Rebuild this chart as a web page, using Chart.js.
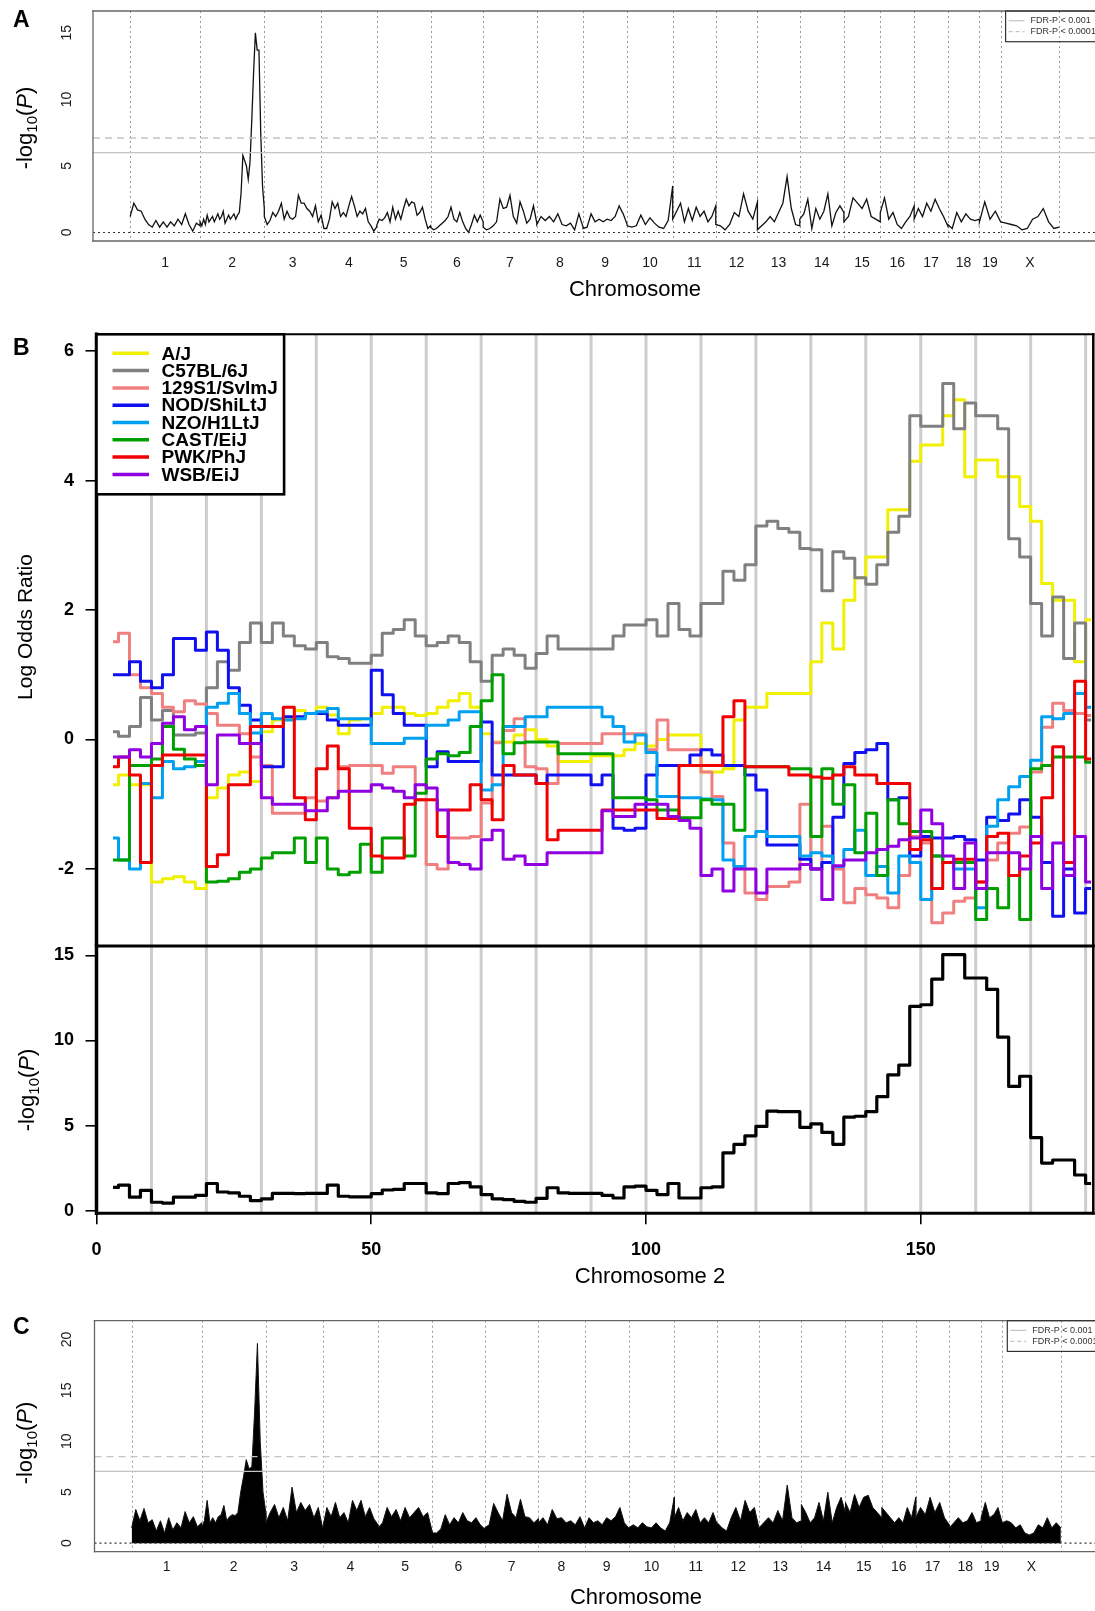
<!DOCTYPE html>
<html>
<head>
<meta charset="utf-8">
<title>Genome scan and chromosome 2 detail</title>
<script src="https://cdn.jsdelivr.net/npm/chart.js"></script>
<style>
  html, body { margin: 0; padding: 0; background: #ffffff; }
  body { position: relative; width: 1095px; height: 1611px; overflow: hidden; }
  canvas { position: absolute; left: 0; }
</style>
</head>
<body>
<canvas id="panelA" width="1100" height="300" style="top:0px;width:1100px;height:300px"></canvas>
<canvas id="panelB1" width="1100" height="626" style="top:320px;width:1100px;height:626px"></canvas>
<canvas id="panelB2" width="1100" height="370" style="top:930px;width:1100px;height:370px"></canvas>
<canvas id="panelC" width="1100" height="311" style="top:1300px;width:1100px;height:311px"></canvas>
<script>
const FONT = '"Liberation Sans", Arial, Helvetica, sans-serif';
Chart.defaults.font.family = FONT;
Chart.defaults.color = '#000';

/* Chromosome layout (Mb) */
const chrNames = ["1", "2", "3", "4", "5", "6", "7", "8", "9", "10", "11", "12", "13", "14", "15", "16", "17", "18", "19", "X"];
const chrLengths = [198, 182, 161, 157, 153, 149, 152, 131, 125, 129, 122, 118, 120, 125, 103, 96, 95, 90, 60, 166];

/* Panel A: -log10(P) per chromosome, values spread from start to end */
const scanA = [
  [1.2, 2.2, 1.7, 1.6, 1.0, 0.6, 0.4, 0.9, 0.4, 0.8, 0.4, 0.8, 0.5, 1.0, 0.6, 1.4, 0.6, 0.1, 0.7, 0.5],
  [0.8, 0.5, 1.0, 0.6, 1.3, 0.8, 1.0, 1.2, 0.8, 1.1, 1.4, 1.0, 1.2, 1.6, 0.7, 1.0, 1.3, 1.0, 1.2, 1.4, 1.0, 1.3, 1.5, 3.0, 5.8, 5.4, 5.0, 4.0, 5.3, 8.5, 12.0, 15.0, 13.7, 13.7, 7.5, 3.5, 1.8],
  [1.2, 0.6, 0.9, 1.5, 1.2, 1.6, 2.2, 1.0, 1.6, 1.1, 1.0, 1.2, 2.8, 2.2, 2.2, 1.8, 1.6, 1.2, 2.0, 0.8, 1.3],
  [1.3, 0.3, 0.3, 1.0, 2.3, 1.8, 2.2, 1.2, 1.5, 1.2, 2.0, 2.7, 2.0, 1.2, 1.6, 1.4, 1.8, 0.8, 0.5, 0.1, 0.4],
  [0.5, 1.0, 0.9, 1.1, 1.5, 0.8, 1.9, 1.0, 1.6, 1.0, 1.8, 2.5, 2.0, 2.3, 2.2, 1.3, 1.5, 1.9, 1.0, 0.3, 0.5],
  [0.4, 0.2, 0.3, 0.5, 0.7, 0.9, 1.2, 1.9, 1.0, 0.8, 1.5, 0.8, 0.3, 0.0, 0.6, 1.3, 0.8, 1.3, 0.8],
  [0.4, 0.2, 0.3, 0.5, 0.8, 2.5, 1.8, 1.9, 2.8, 1.2, 0.7, 2.3, 1.6, 0.7, 1.0, 2.0, 0.7],
  [0.6, 1.2, 0.9, 1.2, 0.8, 1.4, 0.6, 0.5, 0.7, 0.2, 1.4, 0.4],
  [0.3, 0.4, 1.4, 0.8, 1.0, 0.8, 1.0, 0.9, 1.2, 2.0, 1.4, 0.6],
  [0.5, 0.4, 0.5, 1.3, 0.6, 1.1, 0.7, 0.4, 0.3, 0.9, 3.5],
  [1.0, 1.6, 2.2, 0.8, 1.8, 0.9, 1.9, 1.2, 1.6, 0.8, 1.2, 2.0],
  [0.6, 0.5, 0.2, 0.6, 1.5, 1.2, 2.9, 1.6, 1.0, 2.3],
  [0.2, 0.5, 0.8, 1.2, 0.8, 1.5, 2.2, 4.2, 1.8, 0.6, 0.5],
  [1.0, 1.4, 2.5, 0.3, 1.8, 1.0, 1.6, 2.9, 0.5, 1.5, 2.0, 1.5],
  [0.8, 1.2, 2.6, 2.2, 1.8, 2.5, 1.2, 1.0, 0.8],
  [1.5, 2.6, 1.0, 1.5, 0.6, 0.3, 0.8, 1.2, 2.0],
  [1.0, 1.8, 1.2, 2.2, 1.6, 2.5, 1.8, 1.2, 0.5],
  [0.6, 0.3, 1.5, 0.8, 1.4, 1.0, 0.9, 1.0],
  [0.8, 2.3, 1.0, 1.6, 0.8],
  [0.8, 0.7, 0.6, 0.5, 0.2, 0.3, 1.0, 1.2, 1.8, 0.8, 0.3, 0.4]
];
const thresholdsA = [6.0, 7.1];
const yTicksA = [0, 5, 10, 15];

/* Panel C: -log10(P) envelope per chromosome */
const scanC = [
  [1.5, 3.3, 2.2, 3.4, 2.0, 2.3, 1.2, 2.2, 1.0, 2.5, 1.3, 2.0, 1.5, 3.1, 2.0, 2.6, 1.6, 2.0],
  [1.5, 2.2, 4.2, 2.0, 2.5, 2.0, 2.6, 2.8, 3.7, 2.2, 2.6, 2.8, 2.7, 3.0, 5.0, 6.5, 8.2, 7.3, 7.5, 13.0, 19.6, 10.0, 5.0, 3.0],
  [2.0, 3.0, 3.8, 2.5, 3.5, 2.2, 5.5, 3.0, 4.0, 3.2, 3.8, 2.5, 3.5, 1.5],
  [1.5, 3.5, 2.6, 4.0, 2.5, 3.0, 2.0, 4.2, 3.2, 4.2, 2.6, 3.5, 2.4, 1.8],
  [1.5, 2.0, 3.5, 2.6, 3.3, 2.2, 3.5, 2.5, 3.0, 3.5, 2.6, 3.0, 1.2],
  [1.0, 1.0, 1.4, 2.8, 1.8, 2.5, 2.0, 3.0, 2.2, 2.0, 2.5, 1.8, 1.4],
  [1.5, 1.8, 3.9, 3.0, 2.2, 4.8, 3.0, 2.5, 4.3, 2.6, 2.5, 2.0, 2.4],
  [2.0, 2.5, 1.8, 3.3, 2.4, 2.5, 2.0, 2.2, 1.8, 2.6, 1.5],
  [1.5, 2.5, 2.0, 2.2, 1.8, 2.5, 2.2, 2.6, 3.5, 2.0, 1.5],
  [1.5, 1.8, 1.5, 2.0, 1.6, 1.5, 2.0, 1.5, 1.2, 2.0, 4.5],
  [2.5, 3.5, 2.2, 3.0, 2.5, 3.3, 2.0, 2.5, 2.0, 3.0, 1.8],
  [2.0, 1.5, 1.2, 2.5, 3.5, 2.2, 4.2, 3.0, 3.5, 1.5],
  [1.5, 2.0, 2.5, 2.0, 3.2, 2.2, 5.7, 2.5, 2.0, 2.2],
  [3.8, 3.0, 2.0, 2.5, 4.0, 2.2, 5.0, 2.0, 3.5, 4.5, 3.0],
  [4.0, 3.0, 4.8, 3.5, 4.5, 4.7, 3.5, 3.0, 2.5],
  [3.5, 3.0, 2.5, 2.0, 2.5, 2.0, 3.5, 2.5, 4.5],
  [2.5, 3.5, 2.8, 4.5, 3.0, 4.0, 2.5, 1.8],
  [1.5, 2.0, 2.5, 2.0, 2.2, 3.0, 2.0, 2.2],
  [2.5, 4.0, 2.5, 2.8, 3.5, 2.0],
  [2.0, 2.2, 2.0, 1.5, 1.8, 1.0, 0.8, 1.0, 1.8, 1.5, 2.5, 1.5, 2.0, 1.5]
];
const thresholdsC = [7.05, 8.5];
const yTicksC = [0, 5, 10, 15, 20];
const thresholdLabels = ["FDR-P < 0.001", "FDR-P < 0.0001"];

/* Panel B: chromosome 2 positions (Mb) and founder log odds ratios */
const strains = ["A/J", "C57BL/6J", "129S1/SvImJ", "NOD/ShiLtJ", "NZO/H1LtJ", "CAST/EiJ", "PWK/PhJ", "WSB/EiJ"];
const strainColors = ["#F0F000", "#808080", "#F08080", "#1010F0", "#00A0F0", "#00A000", "#F00000", "#9000E0"];
const posB = [3, 5, 7, 9, 11, 13, 15, 17, 19, 21, 23, 25, 27, 29, 31, 33, 35, 37, 39, 41,
  43, 45, 47, 49, 51, 53, 55, 57, 59, 61, 63, 65, 67, 69, 71, 73, 75, 77, 79, 81,
  83, 85, 87, 89, 91, 93, 95, 97, 99, 101, 103, 105, 107, 109, 111, 113, 115, 117, 119, 121,
  123, 125, 127, 129, 131, 133, 135, 137, 139, 141, 143, 145, 147, 149, 151, 153, 155, 157, 159, 161,
  163, 165, 167, 169, 171, 173, 175, 177, 179, 181];

const orAJ = [-0.7, -0.55, -0.7, -0.7, -2.2, -2.15, -2.12, -2.2, -2.3, -0.9,
  -0.75, -0.55, -0.5, -0.65, 0.12, 0.3, 0.32, 0.45, 0.4, 0.5,
  0.38, 0.09, 0.3, 0.32, 0.4, 0.5, 0.5, 0.4, 0.37, 0.4,
  0.5, 0.6, 0.71, 0.5, 0.09, -0.04, -0.04, 0.07, 0.15, 0.0,
  -0.1, -0.34, -0.34, -0.34, -0.25, -0.25, -0.25, -0.16, -0.06, -0.1,
  0.0, 0.07, 0.07, 0.07, -0.5, -0.5, -0.45, 0.3, 0.5, 0.5,
  0.71, 0.71, 0.71, 0.71, 1.2, 1.8, 1.4, 2.15, 2.5, 2.82,
  2.82, 3.55, 3.55, 4.3, 4.55, 4.55, 5.0, 5.25, 4.06, 4.32,
  4.32, 4.06, 4.06, 3.6, 3.37, 2.41, 2.15, 2.15, 1.2, 1.85];
const orB6 = [0.12, 0.05, 0.2, 0.65, 0.3, 0.45, 0.07, 0.07, 0.1, 0.8,
  1.2, 1.07, 1.5, 1.8, 1.5, 1.8, 1.6, 1.45, 1.4, 1.5,
  1.28, 1.25, 1.18, 1.18, 1.3, 1.64, 1.7, 1.85, 1.6, 1.45,
  1.5, 1.6, 1.5, 1.2, 0.9, 1.3, 1.4, 1.3, 1.1, 1.33,
  1.6, 1.4, 1.4, 1.4, 1.4, 1.4, 1.6, 1.77, 1.77, 1.85,
  1.6, 2.1, 1.7, 1.6, 2.1, 2.1, 2.6, 2.46, 2.7, 3.3,
  3.37, 3.26, 3.2, 2.95, 2.93, 2.3, 2.9, 2.8, 2.5, 2.4,
  2.7, 3.2, 3.45, 5.0, 4.84, 4.84, 5.5, 4.8, 5.2, 5.0,
  5.0, 4.8, 3.1, 2.82, 2.1, 1.6, 2.2, 1.25, 1.8, 0.3];
const or129 = [1.51, 1.64, 1.0, 0.8, 0.71, 0.5, 0.43, 0.6, 0.55, 0.4,
  0.22, 0.22, 0.09, -0.27, -0.4, -1.14, -1.14, -1.14, -0.9, -0.95,
  -0.9, -0.42, -0.4, -0.4, -0.4, -0.52, -0.42, -0.42, -0.93, -1.93,
  -2.0, -1.52, -1.52, -1.5, -0.98, -0.05, 0.14, 0.32, -0.42, -0.45,
  -0.68, -0.06, -0.06, -0.06, -0.06, 0.09, 0.09, 0.09, 0.09, -0.16,
  0.3, -0.16, -0.16, -0.16, -0.5, -0.88, -1.6, -1.96, -2.37, -2.47,
  -2.27, -2.27, -2.2, -1.0, -2.0, -1.34, -2.0, -2.52, -2.3, -2.4,
  -2.45, -2.6, -2.1, -1.5, -1.6, -2.83, -2.68, -2.5, -2.45, -2.2,
  -1.86, -1.6, -1.45, -1.35, -0.5, 0.19, 0.56, 0.45, 0.4, 0.37];
const orNOD = [1.0, 1.0, 1.2, 0.9, 0.8, 1.0, 1.56, 1.56, 1.38, 1.66,
  1.38, 0.8, 0.53, 0.3, -0.42, -0.42, 0.35, 0.35, 0.4, 0.4,
  0.3, 0.22, 0.22, 0.22, 1.07, 0.69, 0.4, 0.22, 0.22, -0.42,
  -0.19, -0.34, -0.34, -0.34, 0.27, -0.55, -0.55, -0.55, -0.55, -0.68,
  -0.55, -0.55, -0.55, -0.55, -0.7, -0.55, -1.37, -1.4, -1.37, -0.55,
  -0.4, -0.4, -0.4, -0.24, -0.16, -0.24, -0.4, -0.4, -0.55, -0.78,
  -1.63, -1.63, -1.63, -1.85, -2.0, -1.9, -1.2, -0.37, -0.2, -0.16,
  -0.06, -0.93, -0.9, -1.8, -1.5, -1.52, -1.52, -1.5, -1.55, -1.86,
  -1.2, -1.25, -1.15, -0.93, -1.2, -1.9, -2.73, -2.0, -2.68, -2.3];
const orNZO = [-1.52, -1.86, -2.0, -0.68, -0.9, -0.34, -0.45, -0.42, -0.34, 0.5,
  0.56, 0.71, 0.4, 0.1, 0.4, 0.32, 0.3, 0.32, 0.4, 0.43,
  0.48, 0.32, 0.32, 0.32, -0.06, -0.06, -0.06, 0.02, 0.02, 0.22,
  0.22, 0.3, 0.43, 0.43, -0.78, -0.7, 0.2, 0.2, 0.35, 0.35,
  0.5, 0.5, 0.5, 0.5, 0.5, 0.35, 0.2, -0.04, 0.07, -0.2,
  -0.88, -0.88, -0.9, -0.9, -0.92, -0.93, -1.86, -1.96, -1.5, -1.42,
  -1.5, -1.5, -1.5, -1.8, -1.75, -1.8, -1.96, -1.7, -1.4, -2.1,
  -1.96, -2.37, -1.8, -1.9, -2.47, -1.8, -1.9, -2.0, -2.0, -2.6,
  -1.34, -0.93, -0.73, -0.57, -0.32, 0.35, 0.32, 0.4, 0.71, 0.5];
const orCAST = [-1.86, -1.86, -0.4, -0.4, -0.3, 0.2, -0.15, -0.3, -0.4, -2.2,
  -2.19, -2.15, -2.05, -2.0, -1.83, -1.75, -1.75, -1.52, -1.9, -1.52,
  -2.0, -2.09, -2.05, -1.62, -2.05, -1.52, -1.52, -1.8, -0.83, -0.3,
  -0.22, -0.25, -0.2, 0.2, 0.6, 1.0, -0.22, -0.05, -0.04, -0.04,
  -0.04, -0.22, -0.22, -0.22, -0.22, -0.22, -0.9, -0.9, -0.9, -0.93,
  -1.09, -1.09, -1.21, -1.21, -0.93, -1.0, -1.0, -1.4, -0.42, -0.42,
  -0.42, -0.42, -0.45, -0.45, -1.5, -0.45, -1.0, -0.7, -1.75, -1.14,
  -2.1, -0.93, -1.3, -1.42, -1.42, -1.8, -1.9, -1.9, -1.9, -2.78,
  -2.3, -2.6, -2.1, -2.78, -0.45, -0.4, -0.27, -0.27, -0.27, -0.35];
const orPWK = [-0.42, -0.27, -0.55, -1.9, -0.4, -0.24, -0.24, -0.24, -0.24, -1.96,
  -1.78, -0.7, -0.7, 0.2, 0.2, 0.2, 0.5, -0.9, -1.24, -0.45,
  -0.1, -0.45, -1.37, -1.37, -1.8, -1.83, -1.83, -1.0, -0.93, -0.93,
  -1.5, -1.09, -1.09, -0.7, -0.93, -1.24, -0.4, -0.55, -0.55, -0.68,
  -1.55, -1.4, -1.4, -1.4, -1.4, -1.09, -1.09, -1.09, -1.09, -1.09,
  -1.22, -1.22, -0.4, -0.4, -0.4, -0.4, 0.35, 0.6, -0.42, -0.42,
  -0.42, -0.42, -0.55, -0.55, -0.58, -0.6, -0.55, -0.42, -0.55, -0.55,
  -0.68, -0.68, -0.68, -1.7, -1.55, -2.3, -1.9, -1.85, -1.85, -2.2,
  -1.5, -1.45, -2.1, -1.8, -1.6, -0.9, -0.11, -1.9, 0.9, -0.3];
const orWSB = [-0.27, -0.27, -0.16, -0.27, -0.06, 0.25, 0.35, 0.15, 0.2, -0.7,
  0.07, 0.07, -0.06, -0.06, -0.9, -1.0, -1.0, -1.0, -1.1, -1.1,
  -0.9, -0.8, -0.8, -0.8, -0.7, -0.75, -0.8, -0.9, -0.7, -0.75,
  -1.09, -1.9, -1.93, -2.0, -1.55, -1.4, -1.85, -1.8, -1.93, -1.93,
  -1.75, -1.75, -1.75, -1.75, -1.75, -1.1, -1.19, -1.19, -1.0, -1.0,
  -1.0, -1.19, -1.25, -1.37, -2.1, -2.0, -2.34, -2.0, -2.0, -2.37,
  -2.0, -2.0, -2.0, -1.93, -2.0, -2.47, -1.95, -1.86, -1.86, -1.75,
  -1.7, -1.65, -1.55, -1.52, -1.09, -1.3, -1.8, -2.3, -1.6, -2.3,
  -1.75, -1.75, -1.75, -2.0, -1.5, -2.3, -1.6, -2.1, -1.5, -2.2];
const orSeries = [orAJ, orB6, or129, orNOD, orNZO, orCAST, orPWK, orWSB];

/* Panel B bottom: chromosome 2 -log10(P) */
const pChr2 = [1.37, 1.5, 0.8, 1.2, 0.5, 0.45, 0.8, 0.8, 0.9, 1.6,
  1.1, 1.05, 0.85, 0.6, 0.7, 1.02, 1.02, 1.0, 1.02, 1.02,
  1.5, 0.85, 0.82, 0.82, 1.0, 1.22, 1.25, 1.6, 1.6, 1.05,
  1.0, 1.6, 1.65, 1.4, 0.95, 0.7, 0.65, 0.55, 0.5, 0.73,
  1.35, 1.05, 1.02, 1.02, 1.02, 0.9, 0.75, 1.4, 1.45, 1.2,
  0.95, 1.6, 0.75, 0.75, 1.35, 1.4, 3.4, 3.9, 4.4, 4.95,
  5.85, 5.82, 5.82, 4.9, 5.1, 4.6, 3.9, 5.5, 5.55, 5.82,
  6.7, 7.98, 8.55, 12.0, 12.1, 13.6, 15.04, 15.04, 13.67, 13.67,
  13.0, 10.2, 7.3, 7.9, 4.3, 2.8, 2.98, 2.98, 2.1, 1.6];
const yTicksOR = [-2, 0, 2, 4, 6];
const yTicksP = [0, 5, 10, 15];
const xTicksB = [0, 50, 100, 150];

/* Helpers */
function chrStarts() {
  let starts = [];
  let acc = 0;
  for (let i = 0; i < chrLengths.length; i++) {
    starts.push(acc);
    acc += chrLengths[i];
  }
  return starts;
}
const genomeLength = chrLengths.reduce((a, b) => a + b, 0);
const genomePad = genomeLength * 0.04;

function chrMids() {
  return chrStarts().map((s, i) => s + chrLengths[i] / 2);
}

function genomePoints(scan) {
  const starts = chrStarts();
  let points = [];
  scan.forEach(function (vals, c) {
    vals.forEach(function (v, j) {
      points.push({ x: starts[c] + chrLengths[c] * j / (vals.length - 1), y: v });
    });
  });
  return points;
}

function hLine(y) {
  return [{ x: -genomePad, y: y }, { x: genomeLength + genomePad, y: y }];
}

function fixAxis(size, prop) {
  return function (scale) {
    scale[prop] = size;
    scale.paddingTop = 0;
    scale.paddingBottom = 0;
    scale.paddingLeft = 0;
    scale.paddingRight = 0;
  };
}

function setTicks(values) {
  return function (scale) {
    scale.ticks = values.map(v => ({ value: v }));
  };
}

function drawLogP(ctx, size) {
  const parts = [
    ["-log", size + "px " + FONT, 0],
    ["10", Math.round(size * 0.7) + "px " + FONT, size * 0.32],
    ["(", size + "px " + FONT, 0],
    ["P", "italic " + size + "px " + FONT, 0],
    [")", size + "px " + FONT, 0]
  ];
  let total = 0;
  parts.forEach(p => { ctx.font = p[1]; total += ctx.measureText(p[0]).width; });
  let x = -total / 2;
  ctx.textAlign = "left";
  parts.forEach(p => {
    ctx.font = p[1];
    ctx.fillText(p[0], x, p[2]);
    x += ctx.measureText(p[0]).width;
  });
}

/* Plugins */
function textLayer(items) {
  return {
    id: "textLayer",
    afterDraw(chart) {
      const ctx = chart.ctx;
      items.forEach(function (t) {
        ctx.save();
        ctx.translate(t.x, t.y);
        if (t.rotate) ctx.rotate(-Math.PI / 2);
        ctx.fillStyle = "#000";
        ctx.textBaseline = "middle";
        if (t.logp) {
          drawLogP(ctx, t.size);
        } else {
          ctx.font = (t.bold ? "bold " : "") + t.size + "px " + FONT;
          ctx.textAlign = t.align || "center";
          ctx.fillText(t.text, 0, 0);
        }
        ctx.restore();
      });
    }
  };
}

function frameLayer(color, widths) {
  return {
    id: "frameLayer",
    afterDatasetsDraw(chart) {
      const { ctx, chartArea: a } = chart;
      const sides = [
        [a.left, a.top, a.right, a.top],
        [a.right, a.top, a.right, a.bottom],
        [a.left, a.bottom, a.right, a.bottom],
        [a.left, a.top, a.left, a.bottom]
      ];
      ctx.save();
      ctx.strokeStyle = color;
      ctx.lineCap = "square";
      sides.forEach(function (s, i) {
        if (!widths[i]) return;
        ctx.lineWidth = widths[i];
        ctx.beginPath();
        ctx.moveTo(s[0], s[1]);
        ctx.lineTo(s[2], s[3]);
        ctx.stroke();
      });
      ctx.restore();
    }
  };
}

function chromLines() {
  return {
    id: "chromLines",
    beforeDatasetsDraw(chart) {
      const { ctx, chartArea, scales: { x } } = chart;
      ctx.save();
      ctx.strokeStyle = "#9a9a9a";
      ctx.lineWidth = 1;
      ctx.setLineDash([2, 3]);
      chrStarts().concat([genomeLength]).forEach(function (b) {
        const px = Math.round(x.getPixelForValue(b)) + 0.5;
        ctx.beginPath();
        ctx.moveTo(px, chartArea.top);
        ctx.lineTo(px, chartArea.bottom);
        ctx.stroke();
      });
      ctx.restore();
    }
  };
}

function tenMbLines() {
  return {
    id: "tenMbLines",
    beforeDatasetsDraw(chart) {
      const { ctx, chartArea, scales: { x } } = chart;
      ctx.save();
      ctx.strokeStyle = "#cdcdcd";
      ctx.lineWidth = 3;
      for (let v = 10; v < x.max; v += 10) {
        const px = x.getPixelForValue(v);
        ctx.beginPath();
        ctx.moveTo(px, chartArea.top);
        ctx.lineTo(px, chartArea.bottom);
        ctx.stroke();
      }
      ctx.restore();
    }
  };
}

function fdrLegend(x0, y0) {
  return {
    id: "fdrLegend",
    afterDraw(chart) {
      const ctx = chart.ctx;
      ctx.save();
      ctx.strokeStyle = "#333";
      ctx.lineWidth = 1.2;
      ctx.strokeRect(x0, y0, 120, 30.7);
      ctx.font = "9px " + FONT;
      ctx.textBaseline = "middle";
      ctx.textAlign = "left";
      thresholdLabels.forEach(function (lab, i) {
        const y = y0 + 9.7 + i * 11;
        ctx.strokeStyle = "#c4c4c4";
        ctx.lineWidth = 1.2;
        ctx.setLineDash(i ? [4, 3] : []);
        ctx.beginPath();
        ctx.moveTo(x0 + 3, y);
        ctx.lineTo(x0 + 19, y);
        ctx.stroke();
        ctx.fillStyle = "#333";
        ctx.fillText(lab, x0 + 25, y);
      });
      ctx.restore();
    }
  };
}

const strainLegend = {
  id: "strainLegend",
  afterDraw(chart) {
    const { ctx, chartArea } = chart;
    const x0 = chartArea.left, y0 = chartArea.top;
    ctx.save();
    ctx.fillStyle = "#fff";
    ctx.fillRect(x0, y0, 187.6, 160);
    ctx.strokeStyle = "#000";
    ctx.lineWidth = 2.6;
    ctx.strokeRect(x0, y0, 187.6, 160);
    ctx.font = "bold 19px " + FONT;
    ctx.textBaseline = "middle";
    ctx.textAlign = "left";
    chart.data.datasets.forEach(function (ds, i) {
      const y = y0 + 19 + i * 17.3;
      ctx.strokeStyle = ds.borderColor;
      ctx.lineWidth = 3.5;
      ctx.beginPath();
      ctx.moveTo(x0 + 16, y);
      ctx.lineTo(x0 + 52.5, y);
      ctx.stroke();
      ctx.fillStyle = "#000";
      ctx.fillText(ds.label, x0 + 65, y + 1);
    });
    ctx.restore();
  }
};

function baseOptions(padding) {
  return {
    responsive: false,
    animation: false,
    devicePixelRatio: 1,
    events: [],
    layout: { autoPadding: false, padding: padding },
    plugins: { legend: { display: false }, tooltip: { enabled: false } },
    elements: { point: { radius: 0 }, line: { tension: 0 } }
  };
}

/* Genome-wide panel (A and C) */
function genomePanel(id, scan, filled, thresholds, yTicks, yMax, area, texts, legendPos) {
  let opts = baseOptions({ left: 0, top: area.top, right: 1100 - area.right, bottom: 0 });
  opts.scales = {
    x: {
      type: "linear",
      min: -genomePad,
      max: genomeLength + genomePad,
      afterBuildTicks: setTicks(chrMids()),
      afterFit: fixAxis(area.height - area.bottom, "height"),
      grid: { display: false, drawTicks: false },
      border: { display: false },
      ticks: { autoSkip: false, maxRotation: 0, padding: area.xPad, font: { size: 14 }, color: "#1a1a1a",
        callback: (v, i) => chrNames[i] }
    },
    y: {
      min: -yMax * 0.04,
      max: yMax * 1.04,
      afterBuildTicks: setTicks(yTicks),
      afterFit: fixAxis(area.left, "width"),
      grid: { display: false, drawTicks: false },
      border: { display: false },
      ticks: { minRotation: 90, maxRotation: 90, crossAlign: "center", padding: area.yPad, font: { size: 14 }, color: "#1a1a1a" }
    }
  };
  new Chart(id, {
    type: "line",
    data: {
      datasets: [
        { data: genomePoints(scan), borderColor: "#111", borderWidth: filled ? 1 : 1.3,
          backgroundColor: "#000", fill: filled ? "origin" : false, order: 3 },
        { data: hLine(thresholds[0]), borderColor: "#c4c4c4", borderWidth: 1.3, order: 1 },
        { data: hLine(thresholds[1]), borderColor: "#c4c4c4", borderWidth: 1.3, borderDash: [7, 5], order: 1 },
        { data: hLine(0), borderColor: "#333", borderWidth: 1.2, borderDash: [2, 3], order: 2 }
      ]
    },
    options: opts,
    plugins: [chromLines(), frameLayer("#666", [1.3, 1.3, 1.3, 1.3]), fdrLegend(legendPos[0], legendPos[1]), textLayer(texts)]
  });
}

genomePanel("panelA", scanA, false, thresholdsA, yTicksA, 16,
  { top: 11, bottom: 241, left: 93, right: 1096.4, height: 300, xPad: 14, yPad: 18.5 },
  [
    { text: "A", x: 13, y: 21, size: 23, bold: true, align: "left" },
    { logp: true, x: 26, y: 128, size: 22, rotate: true },
    { text: "Chromosome", x: 635, y: 290, size: 22 }
  ],
  [1005.6, 11]);

genomePanel("panelC", scanC, true, thresholdsC, yTicksC, 21,
  { top: 20.7, bottom: 251.7, left: 94.5, right: 1098, height: 311, xPad: 6.7, yPad: 20 },
  [
    { text: "C", x: 13, y: 28, size: 23, bold: true, align: "left" },
    { logp: true, x: 26, y: 143, size: 22, rotate: true },
    { text: "Chromosome", x: 636, y: 298, size: 22 }
  ],
  [1007.3, 20.7]);

/* Panel B top: founder log odds ratios */
let optsB1 = baseOptions({ left: 0, top: 14.3, right: 6.7, bottom: 0 });
optsB1.scales = {
  x: { type: "linear", min: 0, max: 181.4, display: false },
  y: {
    min: -3.19,
    max: 6.26,
    afterBuildTicks: setTicks(yTicksOR),
    afterFit: fixAxis(96.5, "width"),
    grid: { drawOnChartArea: false, drawTicks: true, tickLength: 11, color: "#000", lineWidth: 1.6 },
    border: { display: false },
    ticks: { padding: 11.5, font: { size: 18, weight: "bold" }, color: "#000" }
  }
};
new Chart("panelB1", {
  type: "line",
  data: {
    datasets: strains.map(function (name, i) {
      return {
        label: name,
        data: posB.map((x, k) => ({ x: x, y: orSeries[i][k] })),
        borderColor: strainColors[i],
        borderWidth: 3,
        stepped: "middle",
        borderJoinStyle: "round",
        order: strains.length - i
      };
    })
  },
  options: optsB1,
  plugins: [tenMbLines(), frameLayer("#000", [2, 2.5, 0, 3.5]), strainLegend,
    textLayer([
      { text: "B", x: 13, y: 29, size: 23, bold: true, align: "left" },
      { text: "Log Odds Ratio", x: 26, y: 307, size: 21, rotate: true }
    ])]
});

/* Panel B bottom: chromosome 2 association */
let optsB2 = baseOptions({ left: 0, top: 16, right: 6.7, bottom: 0 });
optsB2.scales = {
  x: {
    type: "linear",
    min: 0,
    max: 181.4,
    afterBuildTicks: setTicks(xTicksB),
    afterFit: fixAxis(86.7, "height"),
    grid: { drawOnChartArea: false, drawTicks: true, tickLength: 11, color: "#000", lineWidth: 1.6 },
    border: { display: false },
    ticks: { autoSkip: false, maxRotation: 0, padding: 15, font: { size: 18, weight: "bold" }, color: "#000" }
  },
  y: {
    min: -0.15,
    max: 15.55,
    afterBuildTicks: setTicks(yTicksP),
    afterFit: fixAxis(96.5, "width"),
    grid: { drawOnChartArea: false, drawTicks: true, tickLength: 11, color: "#000", lineWidth: 1.6 },
    border: { display: false },
    ticks: { padding: 11.5, font: { size: 18, weight: "bold" }, color: "#000" }
  }
};
new Chart("panelB2", {
  type: "line",
  data: {
    datasets: [{
      label: "-log10(P)",
      data: posB.map((x, k) => ({ x: x, y: pChr2[k] })),
      borderColor: "#000",
      borderWidth: 3.2,
      stepped: "middle",
      borderJoinStyle: "round"
    }]
  },
  options: optsB2,
  plugins: [tenMbLines(), frameLayer("#000", [3, 2.5, 3, 3.5]),
    textLayer([
      { logp: true, x: 28, y: 160, size: 22, rotate: true },
      { text: "Chromosome 2", x: 650, y: 347, size: 22 }
    ])]
});
</script>
</body>
</html>
